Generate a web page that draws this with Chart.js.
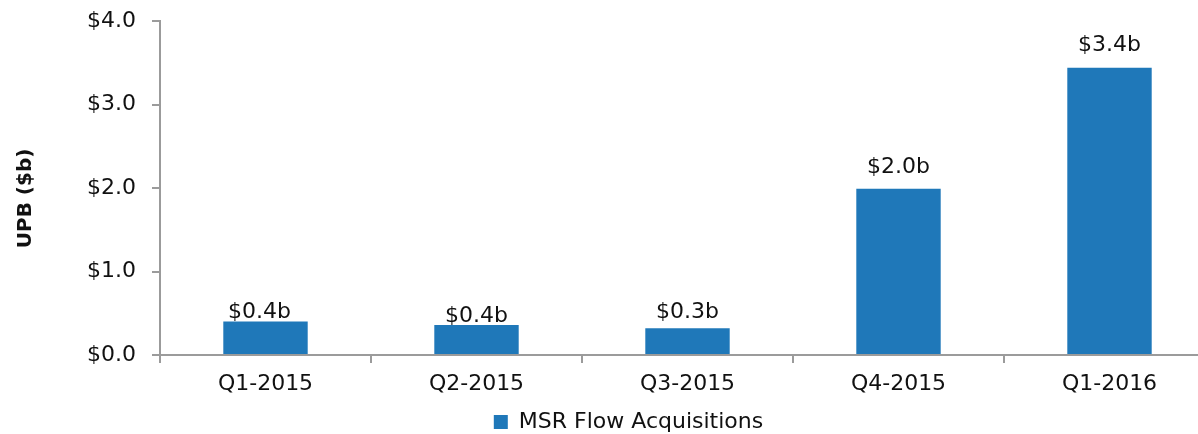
<!DOCTYPE html>
<html>
<head>
<meta charset="utf-8">
<script src="https://cdn.jsdelivr.net/npm/chart.js@4.4.1/dist/chart.umd.min.js"></script>
<style>
  html, body { margin: 0; padding: 0; background: #fff; overflow: hidden; }
  #wrap { position: relative; width: 1215px; height: 434px; }
</style>
</head>
<body>
<div id="wrap"><canvas id="c"></canvas></div>
<script>
const categories = ["Q1-2015", "Q2-2015", "Q3-2015", "Q4-2015", "Q1-2016"];
const seriesName = "MSR Flow Acquisitions";
const upbValues = [0.40, 0.36, 0.32, 1.99, 3.44];
const valueLabels = ["$0.4b", "$0.4b", "$0.3b", "$2.0b", "$3.4b"];
const yTickValues = [0, 1, 2, 3, 4];
const yTitle = "UPB ($b)";

const FONT = "'DejaVu Sans', sans-serif";
const labelGap = [4, 3, 10, 16, 17];
const labelDx = [-6, 0, 0, 0, 0];

const barLabels = {
  id: 'barLabels',
  afterDatasetsDraw(chart) {
    const ctx = chart.ctx;
    const meta = chart.getDatasetMeta(0);
    ctx.save();
    ctx.font = "22px " + FONT;
    ctx.fillStyle = "#111";
    ctx.textAlign = "center";
    ctx.textBaseline = "alphabetic";
    meta.data.forEach((bar, i) => {
      ctx.fillText(valueLabels[i], bar.x + labelDx[i], bar.y - labelGap[i]);
    });
    ctx.restore();
  }
};

const legendShift = {
  id: 'legendShift',
  afterLayout(chart) {
    const lg = chart.legend;
    if (lg) { lg.left += 21; lg.right += 21; lg.top += 9; lg.bottom += 9; }
  }
};

new Chart(document.getElementById('c'), {
  type: 'bar',
  data: {
    labels: categories,
    datasets: [{
      label: seriesName,
      data: upbValues,
      backgroundColor: '#1f78b9',
      borderWidth: 0,
      categoryPercentage: 1.0,
      barPercentage: 0.4
    }]
  },
  options: {
    responsive: true,
    maintainAspectRatio: false,
    animation: false,
    events: [],
    layout: { padding: { top: 21, left: 0, right: 0, bottom: 0 } },
    plugins: {
      tooltip: { enabled: false },
      legend: {
        position: 'bottom',
        labels: {
          color: '#111',
          font: { family: FONT, size: 22 },
          boxWidth: 14,
          boxHeight: 14,
          padding: 2
        }
      }
    },
    scales: {
      x: {
        grid: { display: true, drawOnChartArea: false, drawTicks: true, tickLength: 8, color: '#9b9b9b', lineWidth: 2, offset: true },
        border: { display: true, color: '#9b9b9b', width: 2 },
        ticks: { color: '#111', font: { family: FONT, size: 22 }, padding: 8, maxRotation: 0 },
        afterFit(scale) { scale.height = 45; }
      },
      y: {
        min: 0,
        max: 4,
        afterBuildTicks(scale) { scale.ticks = yTickValues.map(v => ({ value: v })); },
        grid: { display: true, drawOnChartArea: false, drawTicks: true, tickLength: 8, color: '#9b9b9b', lineWidth: 2 },
        border: { display: true, color: '#9b9b9b', width: 2 },
        ticks: {
          color: '#111',
          font: { family: FONT, size: 22 },
          padding: 16,
          callback: v => '$' + Number(v).toFixed(1)
        },
        title: {
          display: true,
          text: yTitle + '   ',
          color: '#111',
          font: { family: FONT, size: 20, weight: 'bold' },
          padding: { top: 14, bottom: 0 }
        },
        afterFit(scale) { scale.width = 160; scale.paddingTop = 0; scale.paddingBottom = 0; }
      }
    }
  },
  plugins: [barLabels, legendShift]
});
</script>
</body>
</html>
